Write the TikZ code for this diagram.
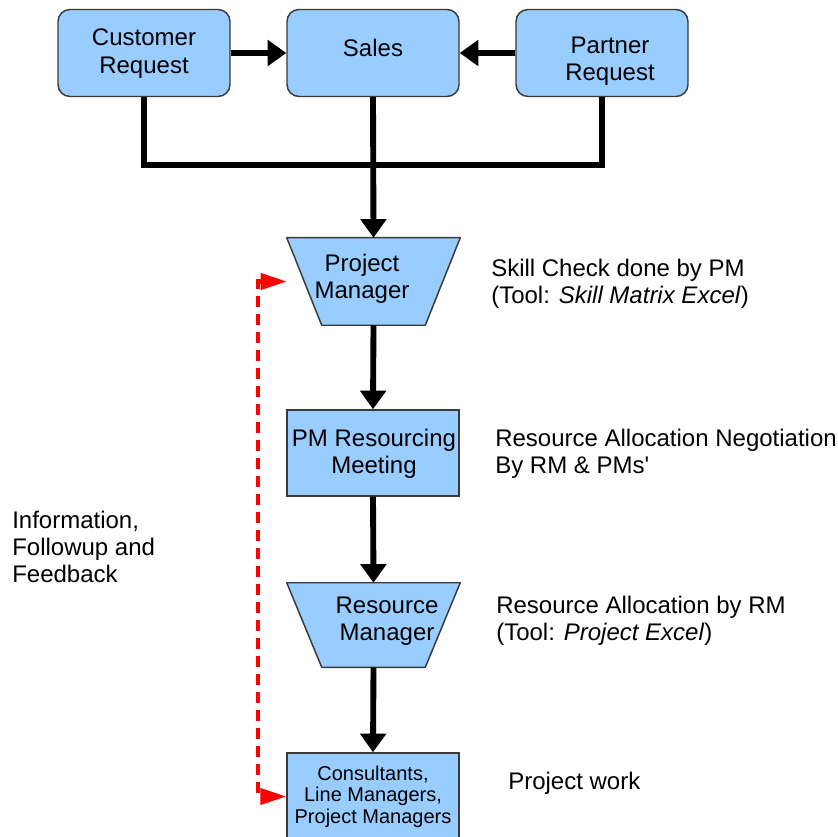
\documentclass[tikz,border=0pt]{standalone}
\usepackage{fontspec}
\setmainfont{Liberation Sans}[Ligatures=TeXOff]
\usetikzlibrary{arrows.meta}

\definecolor{boxblue}{HTML}{99CCFF}
\definecolor{boxedge}{HTML}{3A3A3A}

\tikzset{
  txt/.style={inner sep=0pt, align=center, font=\fontsize{18pt}{20.5pt}\selectfont},
  sidetxt/.style={inner sep=0pt, align=left, anchor=west, font=\fontsize{18pt}{20.5pt}\selectfont},
  smalltxt/.style={inner sep=0pt, align=center, font=\fontsize{15pt}{16.2pt}\selectfont},
  roundbox/.style={draw=boxedge, fill=boxblue, line width=1.1pt, rounded corners=9pt,
    minimum width=129pt, minimum height=65.25pt, inner sep=0pt},
  plainbox/.style={draw=boxedge, fill=boxblue, line width=1.1pt,
    minimum width=129pt, minimum height=64.5pt, inner sep=0pt},
  trapframe/.style={minimum width=129.75pt, minimum height=65.25pt, inner sep=0pt},
  trapfill/.style={draw=boxedge, fill=boxblue, line width=1.1pt, line join=round},
  flow/.style={line width=4.4pt, -{Triangle[length=14pt,width=19pt]}},
  joinline/.style={line width=4.4pt},
  feedback/.style={red, line width=3.1pt, dash pattern=on 8.25pt off 5.25pt,
    {Triangle[length=19.5pt,width=12pt]}-{Triangle[length=19.5pt,width=12pt]}}
}

\begin{document}
\begin{tikzpicture}[x=0.75pt, y=-0.75pt]
  \clip (0,0) rectangle (838,837);

  % request and sales boxes
  \node[roundbox] (cust) at (144,53) {};
  \node[roundbox] (sales) at (373,53) {};
  \node[roundbox] (partner) at (602,53) {};
  \node[txt] (custT) at (144,53.5) {Customer\\Request};
  \node[txt] (salesT) at (373,48) {Sales};
  \node[txt] (partnerT) at (610,61) {Partner\\Request};

  % project manager (trapezoid)
  \node[trapframe] (pm) at (373.5,281.5) {};
  \draw[trapfill] (pm.north west) -- (pm.north east)
    -- ([xshift=-26.25pt]pm.south east) -- ([xshift=26.25pt]pm.south west) -- cycle;
  \node[txt] (pmT) at (362,278.5) {Project\\Manager};

  % resourcing meeting
  \node[plainbox] (prm) at (373,453) {};
  \node[txt] (prmT) at (374,453.5) {PM Resourcing\\Meeting};

  % resource manager (trapezoid)
  \node[trapframe, minimum height=63pt] (rm) at (373.5,625) {};
  \draw[trapfill] (rm.north west) -- (rm.north east)
    -- ([xshift=-26.25pt]rm.south east) -- ([xshift=26.25pt]rm.south west) -- cycle;
  \node[txt] (rmT) at (387,621.5) {Resource\\Manager};

  % consultants box, running off the lower edge
  \node[plainbox, minimum height=65.25pt] (cons) at (373,796.5) {};
  \node[smalltxt] (consT) at (373,796.5) {Consultants,\\Line Managers,\\Project Managers};

  % connectors
  \coordinate (jn) at (373,165);
  \draw[flow] (cust) -- (sales);
  \draw[flow] (partner) -- (sales);
  \draw[joinline] (cust.south) |- (jn) -| (partner.south);
  \draw[flow] (sales.south) -- (pm.north);
  \draw[flow] (pm.south) -- (prm.north);
  \draw[flow] (prm.south) -- (rm.north);
  \draw[flow] (rm.south) -- (cons.north);

  % feedback loop
  \coordinate (fb) at (258,500);
  \draw[feedback] (pm.west) -| (fb) |- (cons.west);

  % annotations
  \node[sidetxt] (skill) at (491,284) {Skill Check done by PM\\(Tool: \textit{Skill Matrix Excel})};
  \node[sidetxt] (nego) at (495,453.5) {Resource Allocation Negotiation\\By RM \& PMs'};
  \node[sidetxt] (alloc) at (496,620.5) {Resource Allocation by RM\\(Tool: \textit{Project Excel})};
  \node[sidetxt] (work) at (508,783) {Project work};
  \node[sidetxt] (info) at (12,547) {Information,\\Followup and\\Feedback};
\end{tikzpicture}
\end{document}
